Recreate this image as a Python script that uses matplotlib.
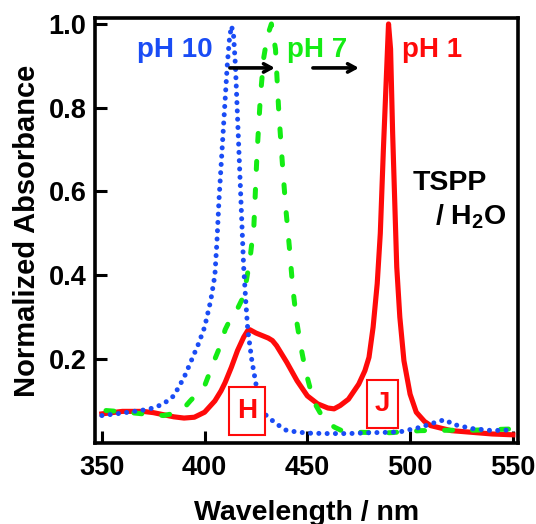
import matplotlib
matplotlib.use("Agg")
import matplotlib.pyplot as plt
from matplotlib.patches import Rectangle

plt.rcParams['font.family'] = ['Liberation Sans', 'DejaVu Sans']
plt.rcParams['font.weight'] = 'bold'
plt.rcParams['mathtext.fontset'] = 'custom'
plt.rcParams['mathtext.rm'] = 'Liberation Sans:bold'
plt.rcParams['mathtext.it'] = 'Liberation Sans:bold'
plt.rcParams['mathtext.bf'] = 'Liberation Sans:bold'

# pH 10 (blue dotted)
wl_ph10 = [350, 360, 370, 375, 380, 385, 390, 393, 397, 400, 403, 405, 406, 407, 408,
           409, 410, 411, 412, 413, 414, 415, 416, 417, 418, 419, 420, 421, 423, 425,
           427, 430, 435, 440, 450, 460, 470, 480, 490, 495, 505, 510, 515, 518, 520,
           530, 540, 550]
ab_ph10 = [0.065, 0.071, 0.078, 0.083, 0.093, 0.112, 0.156, 0.19, 0.236, 0.276, 0.34, 0.40,
           0.48, 0.58, 0.66, 0.74, 0.82, 0.90, 0.96, 0.995, 0.98, 0.90, 0.78, 0.66, 0.54,
           0.42, 0.34, 0.27, 0.196, 0.14, 0.093, 0.065, 0.045, 0.029, 0.023, 0.022, 0.022,
           0.024, 0.025, 0.026, 0.037, 0.045, 0.053, 0.054, 0.045, 0.034, 0.029, 0.031]

# pH 7 (green dashed)
wl_ph7 = [352, 360, 370, 380, 385, 390, 393, 400, 405, 408, 410, 413, 416, 419, 422, 424,
          425.5, 427.2, 428.8, 430.5, 432.5, 434.5, 436.1, 437.8, 439.5, 441.2, 442.9,
          444.8, 446.8, 449.2, 451.7, 454.2, 458.4, 463.3, 466.7, 475, 490, 505, 520,
          530, 550]
ab_ph7 = [0.077, 0.074, 0.069, 0.065, 0.07, 0.083, 0.10, 0.136, 0.20, 0.236, 0.27, 0.30,
          0.32, 0.35, 0.435, 0.52, 0.69, 0.83, 0.92, 0.97, 1.0, 0.94, 0.79, 0.67, 0.56,
          0.47, 0.37, 0.29, 0.23, 0.17, 0.124, 0.089, 0.053, 0.037, 0.029, 0.025, 0.024,
          0.029, 0.030, 0.030, 0.033]

# pH 1 (red solid)
wl_ph1 = [350, 360, 370, 375, 380, 385, 390, 395, 400, 405, 408, 410, 413, 416, 419, 421,
          422, 425, 428, 431, 433, 435, 440, 445, 450, 455, 460, 463, 466, 470, 475, 478,
          480, 482, 484, 485.5, 487, 488, 489, 489.5, 490.5, 491.5, 492.5, 493.5, 495,
          497, 500, 503, 507, 510, 520, 530, 540, 550]
ab_ph1 = [0.069, 0.075, 0.075, 0.072, 0.067, 0.062, 0.059, 0.061, 0.073, 0.10, 0.124,
          0.144, 0.18, 0.22, 0.252, 0.268, 0.27, 0.262, 0.256, 0.25, 0.244, 0.232, 0.192,
          0.148, 0.112, 0.093, 0.083, 0.081, 0.089, 0.104, 0.14, 0.172, 0.204, 0.276,
          0.38, 0.50, 0.70, 0.82, 0.94, 1.0, 0.94, 0.74, 0.58, 0.42, 0.30, 0.196, 0.116,
          0.073, 0.051, 0.041, 0.029, 0.025, 0.021, 0.019]

x_ticks = [350, 400, 450, 500, 550]
y_ticks = [0.2, 0.4, 0.6, 0.8, 1.0]
y_tick_labels = ['0.2', '0.4', '0.6', '0.8', '1.0']

BLUE = '#1a4cf5'
GREEN = '#14ec14'
RED = '#ff0a0a'

fig = plt.figure(figsize=(5.36, 5.24), dpi=100)
ax = fig.add_axes([0.177, 0.155, 0.789, 0.8105])

ax.plot(wl_ph1, ab_ph1, color=RED, lw=3.7, solid_joinstyle='round', zorder=3)
ax.plot(wl_ph7, ab_ph7, color=GREEN, lw=3.6, linestyle=(0, (1.6, 4.0)),
        dash_capstyle='round', zorder=4)
ax.plot(wl_ph10, ab_ph10, color=BLUE, lw=3.6, linestyle=(0, (0.01, 1.65)),
        dash_capstyle='round', zorder=5)

ax.set_xlim(346.6, 552.4)
ax.set_ylim(0, 1.014)
ax.set_xticks(x_ticks)
ax.set_xticklabels([str(t) for t in x_ticks])
ax.set_yticks(y_ticks)
ax.set_yticklabels(y_tick_labels)
ax.tick_params(direction='in', length=8.5, width=2.2, labelsize=19.5)
ax.tick_params(axis='x', pad=9)
ax.tick_params(axis='y', pad=6)
for s in ax.spines.values():
    s.set_linewidth(2.6)

ax.set_xlabel('Wavelength / nm', fontsize=20.5, fontweight='bold')
ax.xaxis.label.set_va('baseline')
ax.xaxis.set_label_coords(0.5, -0.181)
ax.set_ylabel('Normalized Absorbance', fontsize=21, fontweight='bold')
ax.yaxis.label.set_va('baseline')
ax.yaxis.set_label_coords(-0.142, 0.5)

ax.text(367.0, 0.922, 'pH 10', color=BLUE, fontsize=20, fontweight='bold', va='baseline')
ax.text(440.0, 0.922, 'pH 7', color=GREEN, fontsize=20, fontweight='bold', va='baseline')
ax.text(496.0, 0.922, 'pH 1', color=RED, fontsize=20, fontweight='bold', va='baseline')

for x0, x1 in [(412.3, 434.2), (452.7, 475.1)]:
    ax.annotate('', xy=(x1, 0.895), xytext=(x0, 0.895),
                arrowprops=dict(arrowstyle='->,head_length=0.55,head_width=0.3',
                                color='black', lw=2.6, shrinkA=0, shrinkB=0), zorder=6)

ax.text(501.3, 0.604, 'TSPP', color='black', fontsize=20.5, fontweight='bold', va='baseline')
ax.text(512.0, 0.520, r'/ H$_2$O', color='black', fontsize=20.5, fontweight='bold', va='baseline')

for (bx0, bx1, by0, by1, lab) in [(411.8, 429.3, 0.019, 0.134, 'H'),
                                   (479.0, 494.1, 0.036, 0.150, 'J')]:
    ax.add_patch(Rectangle((bx0, by0), bx1 - bx0, by1 - by0, fill=True, facecolor='white',
                           edgecolor=RED, lw=1.5, zorder=7))
    ax.text((bx0 + bx1) / 2, (by0 + by1) / 2, lab, color=RED, fontsize=20,
            fontweight='bold', ha='center', va='center', zorder=8)

fig.savefig('out.png', dpi=100)
